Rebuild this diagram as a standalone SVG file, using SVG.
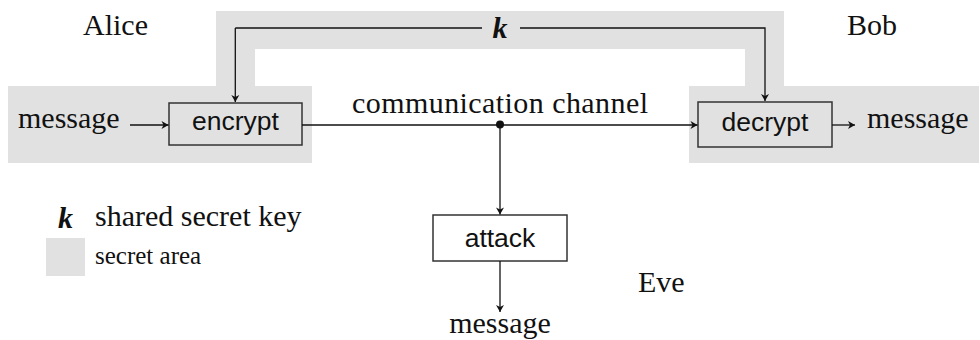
<svg xmlns="http://www.w3.org/2000/svg" width="980" height="340" viewBox="0 0 980 340">
  <style>
    .serif { font-family: "Liberation Serif", "Times New Roman", serif; font-size: 30px; fill: #111; }
    .small { font-size: 25px; }
    .key { font-family: "Liberation Serif", serif; font-weight: bold; font-style: italic; font-size: 30px; fill: #111; }
    .sans { font-family: "Liberation Sans", Arial, sans-serif; font-size: 26.5px; fill: #111; text-anchor: middle; }
    .box { fill: none; stroke: #333; stroke-width: 1.5; }
    .wire { fill: none; stroke: #111; stroke-width: 1.3; }
    .area { fill: #e1e1e1; }
  </style>
  <defs>
    <marker id="arrow" markerUnits="userSpaceOnUse" markerWidth="10" markerHeight="10" viewBox="-8 -5 10 10" refX="0" refY="0" orient="auto">
      <path d="M0,0 L-7,-4 L-5,0 L-7,4 Z" fill="#111"/>
    </marker>
  </defs>

  <!-- secret area shared by Alice and Bob -->
  <path class="area" d="M8,86 H216 V11 H784 V86 H979 V163 H689 V86 H745 V49 H255 V86 H312 V163 H8 Z"/>

  <!-- party labels -->
  <text class="serif" x="83" y="35">Alice</text>
  <text class="serif" x="847" y="35">Bob</text>
  <text class="serif" x="638" y="292">Eve</text>

  <!-- nodes -->
  <g id="encrypt">
    <rect class="box" x="169" y="103" width="133" height="42"/>
    <text class="sans" x="235.5" y="130">encrypt</text>
  </g>
  <g id="decrypt">
    <rect class="box" x="698" y="102" width="134" height="45"/>
    <text class="sans" x="765" y="131">decrypt</text>
  </g>
  <g id="attack">
    <rect class="box" x="433" y="215" width="134" height="46"/>
    <text class="sans" x="500" y="247">attack</text>
  </g>
  <g id="msg-in">
    <text class="serif" x="18" y="128">message</text>
  </g>
  <g id="msg-out">
    <text class="serif" x="867" y="128">message</text>
  </g>
  <g id="msg-eve">
    <text class="serif" x="500" y="333" text-anchor="middle">message</text>
  </g>

  <!-- connectors -->
  <g id="connectors">
    <path class="wire" d="M235.3,28 V102" marker-end="url(#arrow)"/>
    <path class="wire" d="M235.3,28 H482"/>
    <path class="wire" d="M520,28 H765 V101" marker-end="url(#arrow)"/>
    <text class="key" x="500" y="38" text-anchor="middle">k</text>
    <path class="wire" d="M130,125 H168.5" marker-end="url(#arrow)"/>
    <path class="wire" d="M302,125 H697.5" marker-end="url(#arrow)"/>
    <path class="wire" d="M832,125 H855" marker-end="url(#arrow)"/>
    <path class="wire" d="M500,125 V214.5" marker-end="url(#arrow)"/>
    <path class="wire" d="M500,261 V312" marker-end="url(#arrow)"/>
    <circle cx="500" cy="124.5" r="4" fill="#111"/>
    <text class="serif" x="352" y="113" textLength="296" lengthAdjust="spacing">communication channel</text>
  </g>

  <!-- legend -->
  <g id="legend">
    <text class="key" x="58" y="228">k</text>
    <text class="serif" x="95" y="226">shared secret key</text>
    <rect class="area" x="46" y="238" width="39" height="38"/>
    <text class="serif small" x="95" y="264">secret area</text>
  </g>
</svg>
